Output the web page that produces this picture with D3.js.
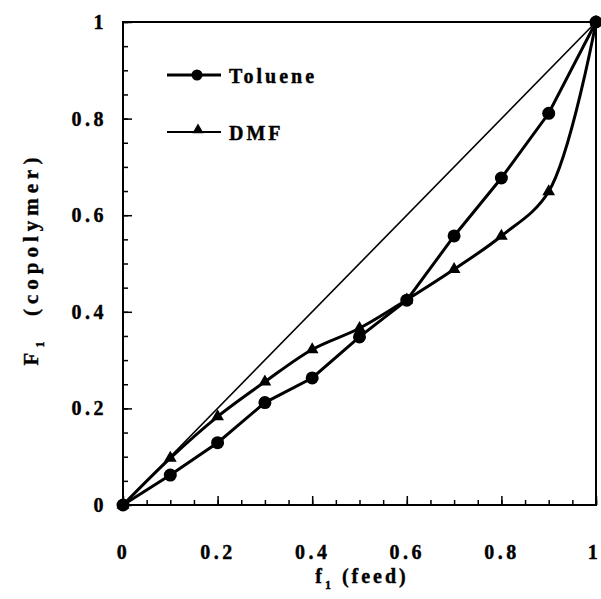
<!DOCTYPE html>
<html>
<head>
<meta charset="utf-8">
<script src="https://cdn.jsdelivr.net/npm/d3@7"></script>
<style>
    body { margin: 0; background: #fff; }
    text { font-family: 'Liberation Serif', 'Times New Roman', serif; font-weight: bold; fill: #000; stroke: #000; stroke-width: 0.4px; }
</style>
</head>
<body>
<div id="chart"></div>
<script>
// DATA

const feed = [0, 0.1, 0.2, 0.3, 0.4, 0.5, 0.6, 0.7, 0.8, 0.9, 1];
const toluene = [0, 0.062, 0.129, 0.212, 0.263, 0.348, 0.424, 0.557, 0.677, 0.811, 1];
const dmf = [0, 0.097, 0.183, 0.255, 0.322, 0.366, 0.425, 0.488, 0.557, 0.649, 1];
const major_ticks = [0, 0.2, 0.4, 0.6, 0.8, 1];
const minor_ticks = d3.range(0, 1.0001, 0.05);
const series_names = ['Toluene', 'DMF'];

// CONFIG

const width = 601,
    height = 599;

const plot = {
    left: 123,
    right: 596,
    top: 22,
    bottom: 505
};

const x_scale = d3.scaleLinear().domain([0, 1]).range([plot.left, plot.right]);
const y_scale = d3.scaleLinear().domain([0, 1]).range([plot.bottom, plot.top]);

const fmt = (d) => d === 0 || d === 1 ? String(d) : d.toFixed(1);

const svg = d3.select('#chart')
    .append('svg')
    .attr('width', width)
    .attr('height', height);

// diagonal
svg.append('line')
    .attr('x1', x_scale(0)).attr('y1', y_scale(0))
    .attr('x2', x_scale(1)).attr('y2', y_scale(1))
    .attr('stroke', '#000')
    .attr('stroke-width', 1.6);

// frame
svg.append('rect')
    .attr('x', plot.left)
    .attr('y', plot.top)
    .attr('width', plot.right - plot.left)
    .attr('height', plot.bottom - plot.top)
    .attr('fill', 'none')
    .attr('stroke', '#000')
    .attr('stroke-width', 2);

// axes: minor ticks
svg.append('g')
    .attr('transform', `translate(0, ${plot.bottom})`)
    .call(d3.axisBottom(x_scale).tickValues(minor_ticks).tickSize(-5).tickFormat(''))
    .call(g => g.select('.domain').remove());

svg.append('g')
    .attr('transform', `translate(${plot.left}, 0)`)
    .call(d3.axisLeft(y_scale).tickValues(minor_ticks).tickSize(-5).tickFormat(''))
    .call(g => g.select('.domain').remove());

// axes: major ticks + labels
const x_axis = svg.append('g')
    .attr('transform', `translate(0, ${plot.bottom})`)
    .call(d3.axisBottom(x_scale).tickValues(major_ticks).tickSize(-9).tickPadding(40).tickFormat(fmt));
x_axis.select('.domain').remove();

const y_axis = svg.append('g')
    .attr('transform', `translate(${plot.left}, 0)`)
    .call(d3.axisLeft(y_scale).tickValues(major_ticks).tickSize(-9).tickPadding(16).tickFormat(fmt));
y_axis.select('.domain').remove();

svg.selectAll('.tick line').attr('stroke', '#000').attr('stroke-width', 1.5);
svg.selectAll('.tick text')
    .style('font-size', '20px')
    .style('letter-spacing', '3.5px');
x_axis.selectAll('.tick text').filter(d => d === 1).attr('dx', -2);

// axis titles
const x_title = svg.append('text')
    .attr('x', 362)
    .attr('y', 583)
    .attr('text-anchor', 'middle')
    .style('font-size', '20px')
    .style('letter-spacing', '3px');
x_title.append('tspan').text('f');
x_title.append('tspan').attr('dy', 6).style('font-size', '12px').text('1');
x_title.append('tspan').attr('dy', -6).text('\u00a0(feed)');

const y_title = svg.append('text')
    .attr('transform', 'translate(38, 259) rotate(-90)')
    .attr('text-anchor', 'middle')
    .style('font-size', '21px')
    .style('letter-spacing', '5px');
y_title.append('tspan').text('F');
y_title.append('tspan').attr('dy', 6).style('font-size', '12px').text('1');
y_title.append('tspan').attr('dy', -6).text('\u00a0\u00a0(copolymer)');

// series
const tol_data = feed.map((f, i) => [f, toluene[i]]);
const dmf_data = feed.map((f, i) => [f, dmf[i]]);

const line_lin = d3.line().x(d => x_scale(d[0])).y(d => y_scale(d[1]));
const line_smooth = d3.line().x(d => x_scale(d[0])).y(d => y_scale(d[1])).curve(d3.curveCatmullRom);

svg.append('path')
    .attr('d', line_smooth(dmf_data))
    .attr('fill', 'none')
    .attr('stroke', '#000')
    .attr('stroke-width', 3);

svg.append('path')
    .attr('d', line_lin(tol_data))
    .attr('fill', 'none')
    .attr('stroke', '#000')
    .attr('stroke-width', 3);

const tri = d3.symbol().type(d3.symbolTriangle).size(70);

svg.selectAll('.tri')
    .data(dmf_data)
    .enter()
    .append('path')
    .attr('class', 'tri')
    .attr('d', tri)
    .attr('transform', d => `translate(${x_scale(d[0])}, ${y_scale(d[1])})`)
    .attr('fill', '#000');

svg.selectAll('.dot')
    .data(tol_data)
    .enter()
    .append('circle')
    .attr('class', 'dot')
    .attr('r', 6.5)
    .attr('cx', d => x_scale(d[0]))
    .attr('cy', d => y_scale(d[1]))
    .attr('fill', '#000');

// legend
const legend = svg.append('g')
    .selectAll('g')
    .data(series_names)
    .enter()
    .append('g')
    .attr('transform', (d, i) => `translate(167, ${75 + i * 57})`);

legend.append('line')
    .attr('x1', 0).attr('x2', 54)
    .attr('stroke', '#000')
    .attr('stroke-width', (d, i) => i === 0 ? 3 : 2.2);

legend.filter((d, i) => i === 0)
    .append('circle')
    .attr('cx', 30)
    .attr('r', 5.5)
    .attr('fill', '#000');

legend.filter((d, i) => i === 1)
    .append('path')
    .attr('d', d3.symbol().type(d3.symbolTriangle).size(55))
    .attr('transform', 'translate(31, -2)')
    .attr('fill', '#000');

legend.append('text')
    .attr('x', 62)
    .attr('y', 8)
    .style('font-size', '20px')
    .style('letter-spacing', '3px')
    .text(d => d);
</script>
</body>
</html>
